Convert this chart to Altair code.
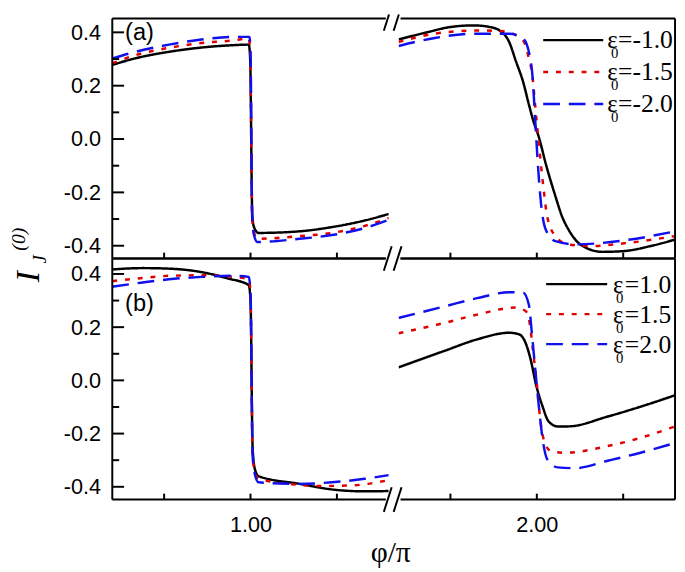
import altair as alt
import pandas as pd

SANS = "Liberation Sans"
SERIF = "Liberation Serif"

SERIES = ["e1", "e2", "e3"]
COLORS = ["#000000", "#e00000", "#1010ee"]
DASHES = [[1, 0], [5, 8], [17, 9]]

LEGEND_A = ["-1.0", "-1.5", "-2.0"]
LEGEND_B = ["1.0", "1.5", "2.0"]

# ---------- panel (a), left segment ----------
a_L_x1 = [0.60, 0.668, 0.764, 0.858, 0.952, 0.995, 0.999, 1.005, 1.010, 1.023, 1.142, 1.236, 1.332, 1.40]
a_L_y1 = [0.278, 0.303, 0.327, 0.343, 0.352, 0.354, 0.30, -0.28, -0.33, -0.352, -0.346, -0.330, -0.305, -0.281]
a_L_x2 = [0.60, 0.668, 0.764, 0.858, 0.952, 0.995, 0.999, 1.005, 1.010, 1.020, 1.142, 1.236, 1.332, 1.40]
a_L_y2 = [0.284, 0.315, 0.342, 0.360, 0.370, 0.377, 0.33, -0.30, -0.35, -0.374, -0.364, -0.352, -0.325, -0.296]
a_L_x3 = [0.60, 0.668, 0.764, 0.858, 0.952, 0.997, 1.000, 1.005, 1.010, 1.020, 1.142, 1.236, 1.332, 1.40]
a_L_y3 = [0.302, 0.327, 0.354, 0.373, 0.383, 0.383, 0.33, -0.30, -0.36, -0.386, -0.374, -0.360, -0.333, -0.303]

# ---------- panel (a), right segment ----------
a_R_x1 = [1.60, 1.685, 1.75, 1.818, 1.864, 1.892, 1.92, 1.94, 1.96, 1.977, 1.99, 2.006, 2.026, 2.054, 2.073, 2.092, 2.13, 2.19, 2.253, 2.33, 2.40]
a_R_y1 = [0.373, 0.401, 0.420, 0.426, 0.420, 0.407, 0.364, 0.290, 0.216, 0.130, 0.068, 0.007, -0.093, -0.215, -0.290, -0.340, -0.399, -0.423, -0.420, -0.401, -0.377]
a_R_x2 = [1.60, 1.705, 1.827, 1.903, 1.94, 1.963, 1.977, 1.988, 1.995, 2.006, 2.020, 2.030, 2.054, 2.09, 2.16, 2.253, 2.40]
a_R_y2 = [0.364, 0.395, 0.407, 0.404, 0.389, 0.364, 0.303, 0.229, 0.130, -0.019, -0.191, -0.290, -0.364, -0.395, -0.401, -0.391, -0.364]
a_R_x3 = [1.60, 1.705, 1.827, 1.92, 1.96, 1.977, 1.988, 1.995, 2.003, 2.012, 2.026, 2.054, 2.11, 2.253, 2.40]
a_R_y3 = [0.349, 0.379, 0.395, 0.395, 0.377, 0.327, 0.229, 0.080, -0.093, -0.240, -0.340, -0.383, -0.395, -0.380, -0.346]

# ---------- panel (b), left segment ----------
b_L_x1 = [0.60, 0.688, 0.764, 0.858, 0.935, 0.995, 1.000, 1.006, 1.012, 1.023, 1.142, 1.236, 1.33, 1.40]
b_L_y1 = [0.417, 0.422, 0.420, 0.407, 0.383, 0.358, 0.30, -0.25, -0.33, -0.360, -0.389, -0.410, -0.417, -0.416]
b_L_x2 = [0.60, 0.688, 0.764, 0.858, 0.952, 0.995, 1.000, 1.006, 1.012, 1.023, 1.142, 1.20, 1.29, 1.40]
b_L_y2 = [0.373, 0.385, 0.393, 0.395, 0.389, 0.380, 0.33, -0.28, -0.34, -0.370, -0.393, -0.397, -0.395, -0.375]
b_L_x3 = [0.60, 0.688, 0.764, 0.858, 0.952, 0.995, 1.000, 1.006, 1.012, 1.023, 1.142, 1.236, 1.33, 1.40]
b_L_y3 = [0.352, 0.368, 0.380, 0.389, 0.393, 0.389, 0.33, -0.28, -0.35, -0.383, -0.389, -0.383, -0.370, -0.356]

# ---------- panel (b), right segment ----------
b_R_x1 = [1.60, 1.733, 1.827, 1.92, 1.949, 1.969, 1.983, 1.997, 2.017, 2.034, 2.06, 2.09, 2.205, 2.30, 2.40]
b_R_y1 = [0.049, 0.111, 0.154, 0.179, 0.173, 0.136, 0.074, -0.012, -0.099, -0.154, -0.173, -0.173, -0.136, -0.099, -0.056]
b_R_x2 = [1.60, 1.733, 1.827, 1.94, 1.969, 1.98, 1.989, 2.0, 2.009, 2.02, 2.04, 2.082, 2.205, 2.30, 2.40]
b_R_y2 = [0.177, 0.216, 0.247, 0.274, 0.259, 0.210, 0.111, -0.012, -0.136, -0.222, -0.265, -0.272, -0.247, -0.216, -0.173]
b_R_x3 = [1.60, 1.733, 1.827, 1.92, 1.96, 1.977, 1.986, 1.995, 2.005, 2.017, 2.03, 2.06, 2.11, 2.205, 2.30, 2.40]
b_R_y3 = [0.235, 0.278, 0.309, 0.331, 0.330, 0.284, 0.173, 0.049, -0.086, -0.222, -0.296, -0.327, -0.330, -0.302, -0.272, -0.235]

rows = []


def add(panel, seg, series, xs, ys):
    for i, (x, y) in enumerate(zip(xs, ys)):
        rows.append(dict(panel=panel, seg=seg, series=series, phi=x, val=y, idx=i))


add("a", "L", "e1", a_L_x1, a_L_y1)
add("a", "L", "e2", a_L_x2, a_L_y2)
add("a", "L", "e3", a_L_x3, a_L_y3)
add("a", "R", "e1", a_R_x1, a_R_y1)
add("a", "R", "e2", a_R_x2, a_R_y2)
add("a", "R", "e3", a_R_x3, a_R_y3)
add("b", "L", "e1", b_L_x1, b_L_y1)
add("b", "L", "e2", b_L_x2, b_L_y2)
add("b", "L", "e3", b_L_x3, b_L_y3)
add("b", "R", "e1", b_R_x1, b_R_y1)
add("b", "R", "e2", b_R_x2, b_R_y2)
add("b", "R", "e3", b_R_x3, b_R_y3)
df = pd.DataFrame(rows)

XDOM = {"L": [0.6, 1.4], "R": [1.6, 2.4]}
YDOM = {"a": [-0.448, 0.452], "b": [-0.448, 0.458]}
W = 281
H = {"a": 244, "b": 245}
X_TICKS = {"L": [0.75, 1.0, 1.25], "R": [1.75, 2.0, 2.25]}
X_LABELS = {"L": [1.0], "R": [2.0]}
Y_MAJOR = [-0.4, -0.2, 0.0, 0.2, 0.4]
Y_MINOR = [-0.3, -0.1, 0.1, 0.3]

one = pd.DataFrame({"k": [0]})


def rule(x, x2, y, y2, width=2):
    return alt.Chart(one).mark_rule(color="black", strokeWidth=width).encode(
        x=alt.value(x), x2=alt.value(x2), y=alt.value(y), y2=alt.value(y2))


def text(t, x, y, size, font=SANS, align="left", **kw):
    return alt.Chart(one).mark_text(text=t, font=font, fontSize=size, color="black",
                                    align=align, baseline="alphabetic", **kw).encode(
        x=alt.value(x), y=alt.value(y))


def build(p, s):
    h = H[p]
    d = df[(df.panel == p) & (df.seg == s)]
    xsc = alt.Scale(domain=XDOM[s], nice=False, zero=False)
    ysc = alt.Scale(domain=YDOM[p], nice=False, zero=False)
    if p == "b":
        xaxis = alt.Axis(values=X_LABELS[s], labelExpr="format(datum.value, '.2f')",
                         ticks=False, domain=False, grid=False, labelFont=SANS,
                         labelFontSize=22, labelPadding=15, labelColor="black")
    else:
        xaxis = None
    if s == "L":
        yaxis = alt.Axis(values=Y_MAJOR,
                         labelExpr="replace(format(datum.value, '.1f'), '\u2212', '-')",
                         ticks=False, domain=False, grid=False, labelFont=SANS,
                         labelFontSize=22, labelPadding=12, labelColor="black")
    else:
        yaxis = None

    def X(f):
        return alt.X(f, scale=xsc, axis=xaxis, title=None)

    def Y(f):
        return alt.Y(f, scale=ysc, axis=yaxis, title=None)

    layers = []
    layers.append(
        alt.Chart(d).mark_line(strokeWidth=2.5, clip=True, interpolate="monotone").encode(
            x=X("phi:Q"), y=Y("val:Q"),
            color=alt.Color("series:N", scale=alt.Scale(domain=SERIES, range=COLORS), legend=None),
            strokeDash=alt.StrokeDash("series:N", scale=alt.Scale(domain=SERIES, range=DASHES), legend=None),
            order=alt.Order("idx:Q"),
        )
    )
    # inward x ticks at the bottom edge
    layers.append(
        alt.Chart(pd.DataFrame({"t": X_TICKS[s]})).mark_rule(color="black", strokeWidth=2).encode(
            x=X("t:Q"), y=alt.value(h), y2=alt.value(h - 6))
    )
    if s == "L":
        layers.append(
            alt.Chart(pd.DataFrame({"t": Y_MAJOR})).mark_rule(color="black", strokeWidth=2).encode(
                y=Y("t:Q"), x=alt.value(0), x2=alt.value(12))
        )
        layers.append(
            alt.Chart(pd.DataFrame({"t": Y_MINOR})).mark_rule(color="black", strokeWidth=2).encode(
                y=Y("t:Q"), x=alt.value(0), x2=alt.value(7))
        )
        # frame: left, top, bottom
        layers.append(rule(0, 0, 0, h))
        layers.append(rule(0, W - 3, 0, 0))
        layers.append(rule(0, W - 3, h, h))
        # axis break marks
        if p == "a":
            top = -4
            layers.append(rule(276, 276 + 8 * (12.5 - top) / 25, 12.5, top))
            layers.append(rule(286, 286 + 8 * (12.5 - top) / 25, 12.5, top))
        layers.append(rule(276, 284, h + 12.5, h - 12.5))
        layers.append(rule(286, 294, h + 12.5, h - 12.5))
    else:
        layers.append(rule(2, W, 0, 0))
        layers.append(rule(2, W, h, h))
        layers.append(rule(W, W, 0, h))

    if p == "a" and s == "L":
        layers.append(text("(a)", 13, 22, 24))
        # y-axis title I_J^(0)
        layers.append(text("I", -74, 268, 34, font=SERIF, angle=270, fontStyle="italic"))
        layers.append(text("J", -67, 249, 19, font=SERIF, angle=270, fontStyle="italic"))
        layers.append(text("(0)", -89, 236, 20, font=SERIF, angle=270, fontStyle="italic"))
    if p == "b" and s == "L":
        layers.append(text("(b)", 13, 53, 24))
        layers.append(text("\u03c6/\u03c0", 283, 308, 30, font=SERIF, align="center"))

    if s == "R":
        if p == "a":
            labels, lx, lx2, ly0, ty0, dy, ex, sx, qx = LEGEND_A, 147, 208, 22, 30, 32.5, 212, 216, 223
        else:
            labels, lx, lx2, ly0, ty0, dy, ex, sx, qx = LEGEND_B, 150, 212, 26, 35, 30.5, 218, 221, 230
        for i in range(3):
            ly = ly0 + dy * i
            ty = ty0 + dy * i
            layers.append(
                alt.Chart(one).mark_rule(color=COLORS[i], strokeWidth=2.5, strokeDash=DASHES[i]).encode(
                    x=alt.value(lx), x2=alt.value(lx2), y=alt.value(ly), y2=alt.value(ly))
            )
            layers.append(text("\u03b5", ex, ty, 25, font=SERIF, clip=True))
            layers.append(text("0", sx, ty + 10, 15, font=SERIF, clip=True))
            layers.append(text("=" + labels[i], qx, ty, 26, font=SERIF, clip=True))

    return alt.layer(*layers).properties(width=W, height=h)


chart = alt.concat(
    build("a", "L"), build("a", "R"), build("b", "L"), build("b", "R"),
    columns=2, spacing={"row": 0, "column": 10}, bounds="flush",
).properties(
    padding=0, background="white"
).configure_view(stroke="transparent")

chart.save("out.html", embed_options={"renderer": "svg", "actions": False})
